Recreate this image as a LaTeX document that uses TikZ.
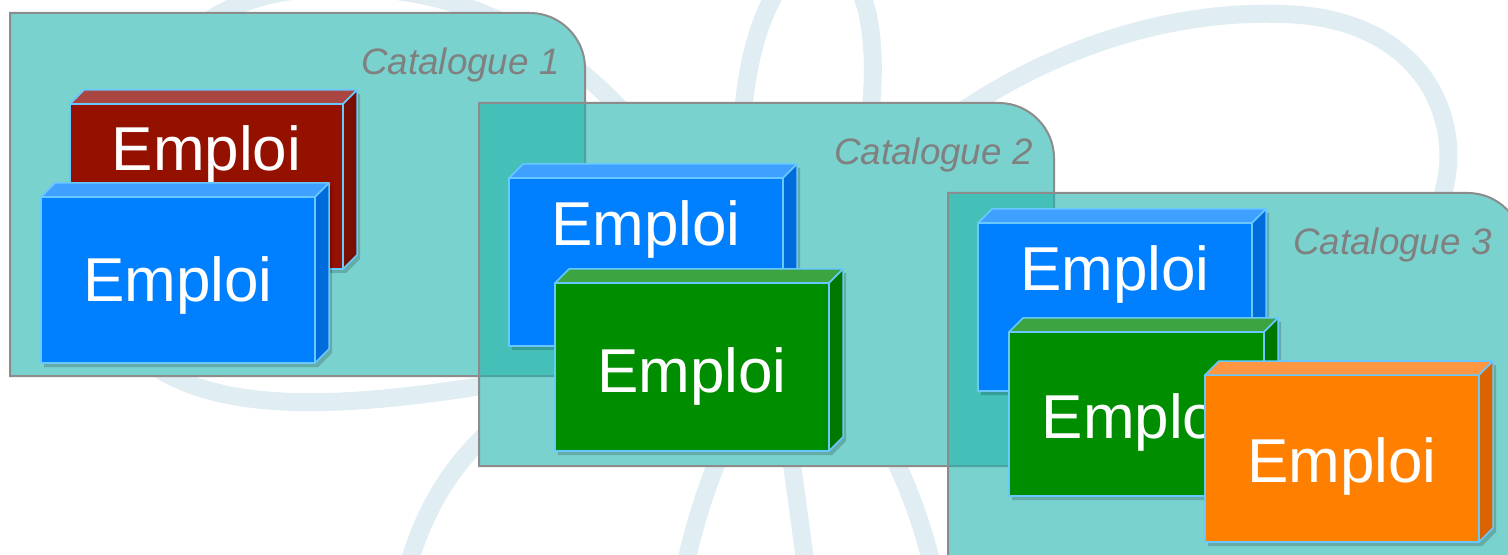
\documentclass[tikz,border=0pt]{standalone}
\usepackage{fontspec}
\setmainfont{Liberation Sans}
\usetikzlibrary{calc}

% palette
\definecolor{panelC}{RGB}{33,180,173}
\definecolor{panelEdge}{RGB}{140,140,140}
\definecolor{labelC}{RGB}{128,128,128}
\definecolor{edgeC}{RGB}{105,200,255}
\definecolor{wmC}{RGB}{224,238,243}
\definecolor{redF}{RGB}{148,17,0}
\definecolor{redT}{RGB}{170,70,66}
\definecolor{redS}{RGB}{120,15,0}
\definecolor{blueF}{RGB}{0,128,255}
\definecolor{blueT}{RGB}{64,160,255}
\definecolor{blueS}{RGB}{0,108,220}
\definecolor{greenF}{RGB}{0,142,0}
\definecolor{greenT}{RGB}{60,165,65}
\definecolor{greenS}{RGB}{0,120,0}
\definecolor{orangeF}{RGB}{255,128,0}
\definecolor{orangeT}{RGB}{255,150,65}
\definecolor{orangeS}{RGB}{220,100,0}

\tikzset{
  panel/.style={fill=panelC, fill opacity=.6, draw=panelEdge, line width=1pt},
  underlay/.style={fill=white},
  face/.style={draw=edgeC, line width=.75pt, line join=round},
  front/.style={face, rectangle, anchor=north west, inner sep=0pt, outer sep=0pt},
  emploi/.style={text=white, font=\fontsize{31}{37}\selectfont, inner sep=0pt},
  catlabel/.style={text=labelC, font=\itshape\fontsize{18.4}{22}\selectfont,
    inner sep=0pt, anchor=base east},
  wmline/.style={draw=wmC, line width=9pt, line cap=round},
  boxshadow/.style={fill=black, opacity=.18}
}

% outline of a catalogue panel with its rounded upper right corner
\newcommand\panelpath[2]{%
  (#1,#2+363) -- (#1,#2) -- (#1+520,#2)
    .. controls (#1+550,#2) and (#1+575,#2+25) .. (#1+575,#2+55)
    -- (#1+575,#2+363) -- cycle}
\newcommand\catpanel[2]{\path[panel] \panelpath{#1}{#2};}

% 3D job box: #1 name, #2 x, #3 y (front top left), #4 width, #5 height,
% #6 colour set, #7 drop from front top to text baseline
\newcommand\cuboid[7]{%
  \fill[boxshadow, shift={(3,4)}] (#2,#3) -- ++(14,-14) -- ++(#4,0)
    -- ++(0,#5) -- ++(-14,14) -- ++(-#4,0) -- cycle;
  \node[front, fill=#6F, minimum width={#4*0.5pt}, minimum height={#5*0.5pt}]
    (#1) at (#2,#3) {};
  \filldraw[face, fill=#6T] (#1.north west) -- ++(14,-14) -- ++(#4,0)
    -- (#1.north east) -- cycle;
  \filldraw[face, fill=#6S] (#1.north east) -- ++(14,-14) -- ++(0,#5)
    -- (#1.south east) -- cycle;
  \node[emploi, anchor=base] (#1t) at ($(#1.north)+(0,#7)$) {Emploi};}

\begin{document}
\begin{tikzpicture}[x=0.5pt, y=-0.5pt]
  \useasboundingbox (0,0) rectangle (1508,555);
  \clip (0,0) rectangle (1508,555);
  \fill[white] (0,0) rectangle (1508,555);

  % faint swirl watermark in the background
  \begin{scope}[wmline]
    \draw (770,320) .. controls (880,120) and (1100,0) .. (1300,15)
      .. controls (1470,30) and (1480,200) .. (1400,255)
      .. controls (1250,350) and (950,350) .. (770,320);
    \draw (780,330) .. controls (700,150) and (760,-60) .. (830,-40)
      .. controls (900,-20) and (880,200) .. (800,330);
    \draw (760,330) .. controls (650,80) and (500,-30) .. (300,-10)
      .. controls (100,10) and (80,250) .. (160,370)
      .. controls (260,430) and (450,400) .. (760,330);
    \draw (700,330) .. controls (520,380) and (430,450) .. (400,600);
    \draw (760,360) .. controls (720,450) and (690,520) .. (680,600);
    \draw (780,380) .. controls (790,450) and (800,520) .. (810,600);
    \draw (800,340) .. controls (880,400) and (920,500) .. (940,600);
  \end{scope}

  % white ground under the translucent panels
  \fill[underlay] \panelpath{10}{13};
  \fill[underlay] \panelpath{479}{103};
  \fill[underlay] \panelpath{948}{193};

  % Catalogue 1
  \catpanel{10}{13}
  \node[catlabel] (cat1) at (560,75) {Catalogue 1};
  \cuboid{r1}{70}{104}{273}{165}{red}{67}
  \cuboid{b1}{41}{197}{274}{166}{blue}{105}

  % Catalogue 2
  \catpanel{479}{103}
  \node[catlabel] (cat2) at (1033,165) {Catalogue 2};
  \cuboid{b2}{509}{178}{274}{168}{blue}{68}
  \cuboid{g2}{555}{283}{274}{168}{green}{109}

  % Catalogue 3
  \catpanel{948}{193}
  \node[catlabel] (cat3) at (1492,255) {Catalogue 3};
  \cuboid{b3}{978}{223}{274}{168}{blue}{68}
  \cuboid{g3}{1009}{332}{255}{164}{green}{106}
  \cuboid{o3}{1205}{375}{274}{167}{orange}{107}
\end{tikzpicture}
\end{document}
